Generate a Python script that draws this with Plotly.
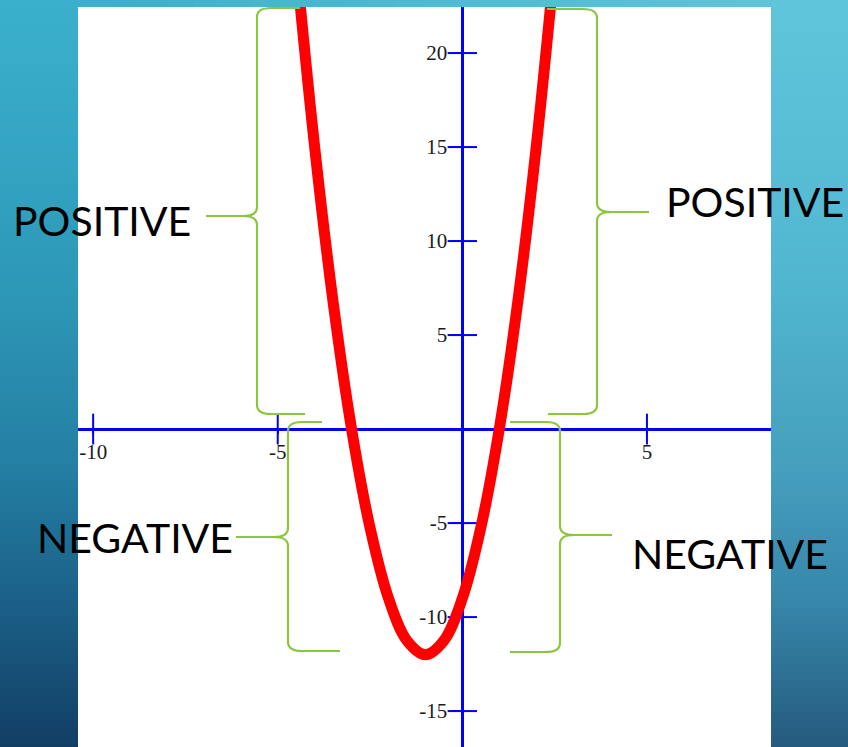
import plotly.graph_objects as go

# ---- data ----
curve_x = [-4.5, -4.0, -3.5, -3.0, -2.5, -2.0, -1.5, -1.0, -0.5, 0.0, 0.5, 1.0, 1.5, 2.0, 2.5]
curve_y = [24.75, 15.0, 6.75, 0.0, -5.25, -9.0, -11.25, -12.0, -11.25, -9.0, -5.25, 0.0, 6.75, 15.0, 24.75]

x_ticks = [-10, -5, 5]
x_tick_labels = ["-10", "-5", "5"]
y_ticks = [-15, -10, -5, 5, 10, 15, 20]
y_tick_labels = ["-15", "-10", "-5", "5", "10", "15", "20"]

x_range = [-10.41, 8.36]
y_range = [-16.91, 22.45]

labels = ["POSITIVE", "POSITIVE", "NEGATIVE", "NEGATIVE"]

# ---- layout constants ----
W, H = 848, 747
PL, PR, PT = 78, 771, 7          # white plot area edges in pixels
dom_x = [PL / W, PR / W]
dom_y = [0.0, 1 - PT / H]


def px(x):
    return x / W


def py(y):
    return 1 - y / H


# slide background gradient stops (pixel y, rgb)
left_stops = [(0, (58, 176, 204)), (150, (52, 165, 196)), (300, (45, 150, 182)),
              (460, (36, 128, 164)), (600, (27, 96, 136)), (747, (18, 62, 100))]
right_stops = [(0, (94, 197, 218)), (150, (88, 190, 214)), (300, (80, 180, 206)),
               (460, (70, 160, 190)), (600, (55, 135, 170)), (747, (36, 90, 126))]


def col_at(stops, y):
    for (y0, c0), (y1, c1) in zip(stops[:-1], stops[1:]):
        if y0 <= y <= y1:
            t = (y - y0) / (y1 - y0)
            c = [round(a + (b - a) * t) for a, b in zip(c0, c1)]
            return f"rgb({c[0]},{c[1]},{c[2]})"
    c = stops[-1][1]
    return f"rgb({c[0]},{c[1]},{c[2]})"


fig = go.Figure()

# tick marks crossing the axes
fig.add_trace(go.Scatter(
    x=x_ticks, y=[0] * len(x_ticks), mode="markers",
    marker=dict(symbol="line-ns", size=22, line=dict(width=2, color="#0000ff")),
    hoverinfo="skip", showlegend=False))
fig.add_trace(go.Scatter(
    x=[0] * len(y_ticks), y=y_ticks, mode="markers",
    marker=dict(symbol="line-ew", size=21, line=dict(width=2, color="#0000ff")),
    hoverinfo="skip", showlegend=False))

# the parabola
fig.add_trace(go.Scatter(
    x=curve_x, y=curve_y, mode="lines",
    line=dict(color="#ff0000", width=11, shape="spline"),
    showlegend=False))

x_pos = dom_y[0] + (dom_y[1] - dom_y[0]) * (0 - y_range[0]) / (y_range[1] - y_range[0])
y_pos = dom_x[0] + (dom_x[1] - dom_x[0]) * (0 - x_range[0]) / (x_range[1] - x_range[0])

tick_font = dict(family="Liberation Serif", size=21, color="#1a1a1a")

fig.update_layout(
    width=W, height=H,
    margin=dict(l=0, r=0, t=0, b=0),
    paper_bgcolor="#2a91b4",
    plot_bgcolor="rgba(0,0,0,0)",
    showlegend=False,
    xaxis=dict(domain=dom_x, range=x_range, anchor="free", position=x_pos,
               showgrid=False, zeroline=False, showline=True, linecolor="#0000ff",
               linewidth=3, ticks="outside", ticklen=3, tickwidth=2, tickcolor="#0000ff",
               tickvals=x_ticks, ticktext=x_tick_labels, tickfont=tick_font,
               layer="below traces"),
    yaxis=dict(domain=dom_y, range=y_range, anchor="free", position=y_pos,
               showgrid=False, zeroline=False, showline=True, linecolor="#0000ff",
               linewidth=3, ticks="outside", ticklen=10, tickwidth=2, tickcolor="#0000ff",
               tickvals=y_ticks, ticktext=y_tick_labels, tickfont=tick_font,
               layer="below traces"),
)

shapes = []
# left and right background strips
step = 8
for y0 in range(0, H, step):
    ym = y0 + step / 2
    y1 = min(H, y0 + step + 1)
    shapes.append(dict(type="rect", xref="paper", yref="paper", x0=0, x1=px(PL + 1),
                       y0=py(y1), y1=py(y0), fillcolor=col_at(left_stops, ym),
                       line=dict(width=0), layer="below"))
    shapes.append(dict(type="rect", xref="paper", yref="paper", x0=px(PR - 1), x1=1,
                       y0=py(y1), y1=py(y0), fillcolor=col_at(right_stops, ym),
                       line=dict(width=0), layer="below"))
# top band: horizontal blend between the two top colours
nseg = 24
cl, cr = left_stops[0][1], right_stops[0][1]
for i in range(nseg):
    t = (i + 0.5) / nseg
    c = [round(a + (b - a) * t) for a, b in zip(cl, cr)]
    xa = PL + (PR - PL) * i / nseg
    xb = PL + (PR - PL) * (i + 1) / nseg + 1
    shapes.append(dict(type="rect", xref="paper", yref="paper", x0=px(xa), x1=px(xb),
                       y0=py(PT + 1), y1=1, fillcolor=f"rgb({c[0]},{c[1]},{c[2]})",
                       line=dict(width=0), layer="below"))
# white plot area
shapes.append(dict(type="rect", xref="paper", yref="paper", x0=dom_x[0], x1=dom_x[1],
                   y0=dom_y[0], y1=dom_y[1], fillcolor="white", line=dict(width=0),
                   layer="below"))


def brace(x_spine, x_tip, y_tip, y_top, x_top, y_bot, x_bot, r=9, r2=14):
    d = 1 if x_tip > x_spine else -1  # direction of tip
    path = (f"M {px(x_top)},{py(y_top)} "
            f"L {px(x_spine - d * r2)},{py(y_top)} "
            f"Q {px(x_spine)},{py(y_top)} {px(x_spine)},{py(y_top + r)} "
            f"L {px(x_spine)},{py(y_tip - r)} "
            f"Q {px(x_spine)},{py(y_tip)} {px(x_spine + d * r2)},{py(y_tip)} "
            f"L {px(x_tip)},{py(y_tip)} "
            f"M {px(x_tip)},{py(y_tip)} "
            f"L {px(x_spine + d * r2)},{py(y_tip)} "
            f"Q {px(x_spine)},{py(y_tip)} {px(x_spine)},{py(y_tip + r)} "
            f"L {px(x_spine)},{py(y_bot - r)} "
            f"Q {px(x_spine)},{py(y_bot)} {px(x_spine - d * r2)},{py(y_bot)} "
            f"L {px(x_bot)},{py(y_bot)}")
    return dict(type="path", xref="paper", yref="paper", path=path,
                line=dict(color="#8cc63f", width=2.2), layer="above")


shapes.append(brace(257, 206, 216, 8, 300, 414, 305))
shapes.append(brace(597, 649, 212, 9, 547, 414, 548))
shapes.append(brace(288, 236, 537, 422, 322, 651, 340))
shapes.append(brace(560, 612, 535, 422, 510, 652, 510))
fig.update_layout(shapes=shapes)

label_pos = [(102, 220), (755, 201), (135, 537), (730, 553)]
for txt, (lx, ly) in zip(labels, label_pos):
    fig.add_annotation(x=px(lx), y=py(ly), xref="paper", yref="paper", text=txt,
                       showarrow=False, xanchor="center", yanchor="middle",
                       font=dict(family="Lato", size=41, color="#000000"))

fig.write_html("out.html", config={"displayModeBar": False},
               post_script="document.body.style.margin='0';")
